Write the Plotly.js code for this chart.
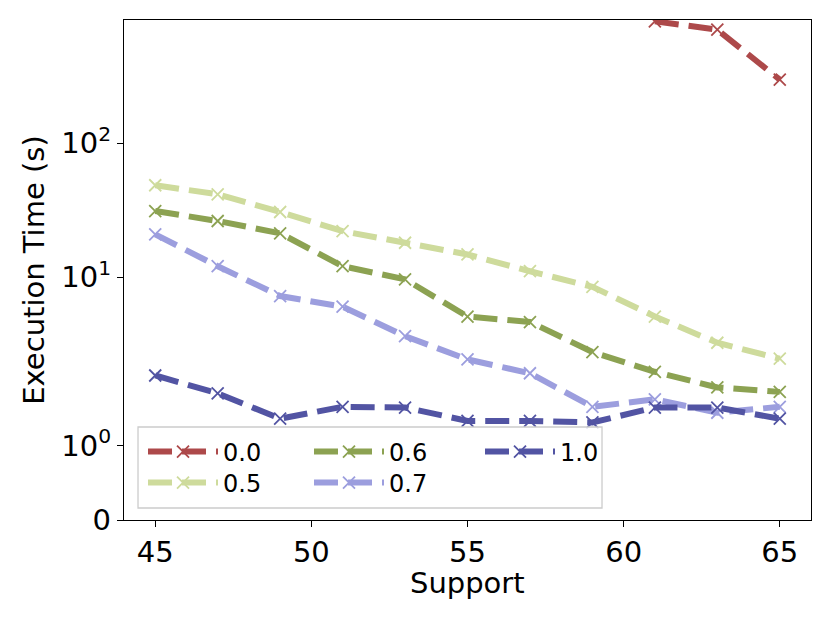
<!DOCTYPE html>
<html>
<head>
<meta charset="utf-8">
<script src="https://cdn.plot.ly/plotly-3.0.1.min.js"></script>
<style>
  html, body { margin: 0; padding: 0; background: #fff; }
  #chart { width: 830px; height: 623px; }
</style>
</head>
<body>
<div id="chart"></div>
<script>
// values (execution time in seconds)
const support = [45, 47, 49, 51, 53, 55, 57, 59, 61, 63, 65];
const time00 = [null, null, null, null, null, null, null, null, 811, 703, 298];
const time05 = [48.6, 41.6, 30.7, 22.1, 18.1, 14.8, 11.1, 8.5, 5.1, 3.25, 2.47];
const time06 = [31.2, 26.3, 21.3, 12.1, 9.66, 5.1, 4.64, 2.77, 1.99, 1.78, 1.72];
const time07 = [20.9, 12.1, 7.25, 6.04, 3.64, 2.44, 1.97, 1.52, 1.62, 1.44, 1.52];
const time10 = [1.94, 1.70, 1.36, 1.52, 1.51, 1.33, 1.33, 1.31, 1.51, 1.51, 1.36];

const seriesNames = ["0.0", "0.5", "0.6", "0.7", "1.0"];
const seriesColors = ["#ad494a", "#cedb9c", "#8ca252", "#9c9ede", "#5254a3"];
const yTickValues = [0, 1, 10, 100];
const yTickLabels = ["0", "10<sup>0</sup>", "10<sup>1</sup>", "10<sup>2</sup>"];

// matplotlib "symlog" scale: linear below linthresh, log10 above
const linthresh = 2;
const linscaleAdj = 1 / (1 - 1 / 10);

function symlog(v)
{
  if (v === null) return null;
  const a = Math.abs(v);
  const t = a <= linthresh ? a * linscaleAdj : linthresh * (linscaleAdj + Math.log10(a / linthresh));
  return Math.sign(v) * t;
}

function graph()
{
  const allSeries = [time00, time05, time06, time07, time10];
  const font = "DejaVu Sans, sans-serif";

  // one legend per entry so the legend reads column by column like the original
  const legendCols = [0, 0, 1, 1, 2];
  const legendRows = [0, 1, 0, 1, 0];
  const colX = [0.0277, 0.2693, 0.5182];
  const rowY = [0.136, 0.074];

  const traces = allSeries.map((values, i) => ({
    x: support,
    y: values.map(symlog),
    customdata: values,
    name: seriesNames[i],
    legend: i === 0 ? "legend" : "legend" + (i + 1),
    type: "scatter",
    mode: "lines+markers",
    line: {color: seriesColors[i], width: 6, dash: "24px,10px"},
    marker: {symbol: "x-thin", size: 12, color: seriesColors[i], line: {color: seriesColors[i], width: 1.8}},
    hovertemplate: "Support %{x}<br>%{customdata} s<extra>" + seriesNames[i] + "</extra>"
  }));

  const layout = {
    width: 830,
    height: 623,
    margin: {l: 124, r: 19, t: 20, b: 103},
    paper_bgcolor: "#fff",
    plot_bgcolor: "#fff",
    font: {family: font, color: "#000", size: 29},
    showlegend: true,

    xaxis: {
      range: [44, 66],
      tickvals: [45, 50, 55, 60, 65],
      ticks: "outside",
      ticklen: 6,
      tickwidth: 1.3,
      tickcolor: "#000",
      showgrid: false,
      zeroline: false,
      showline: true,
      mirror: true,
      linecolor: "#000",
      linewidth: 1.3,
      tickfont: {size: 29}
    },

    yaxis: {
      range: [0, symlog(830)],
      tickvals: yTickValues.map(symlog),
      ticktext: yTickLabels,
      ticks: "outside",
      ticklen: 6,
      tickwidth: 1.3,
      tickcolor: "#000",
      showgrid: false,
      zeroline: false,
      showline: true,
      mirror: true,
      linecolor: "#000",
      linewidth: 1.3,
      tickfont: {size: 29},
      title: {text: "Execution Time (s)", font: {size: 29}, standoff: 8}
    },

    // x title placed a little closer to the tick labels than plotly allows
    annotations: [{
      text: "Support",
      xref: "paper", yref: "paper",
      x: 0.5, y: -0.125,
      xanchor: "center", yanchor: "middle",
      showarrow: false,
      font: {size: 29}
    }],

    // legend frame
    shapes: [{
      type: "rect",
      xref: "paper", yref: "paper",
      x0: 0.0204, x1: 0.6958,
      y0: 0.024, y1: 0.186,
      fillcolor: "rgba(255,255,255,0.8)",
      line: {color: "#cccccc", width: 1.3},
      layer: "above"
    }]
  };

  seriesNames.forEach((name, i) => {
    const key = i === 0 ? "legend" : "legend" + (i + 1);
    layout[key] = {
      orientation: "v",
      x: colX[legendCols[i]],
      y: rowY[legendRows[i]],
      xanchor: "left",
      yanchor: "middle",
      bgcolor: "rgba(0,0,0,0)",
      borderwidth: 0,
      itemwidth: 70,
      font: {size: 24, family: font}
    };
  });

  Plotly.newPlot("chart", traces, layout, {displayModeBar: false});
}

graph();
</script>
</body>
</html>
